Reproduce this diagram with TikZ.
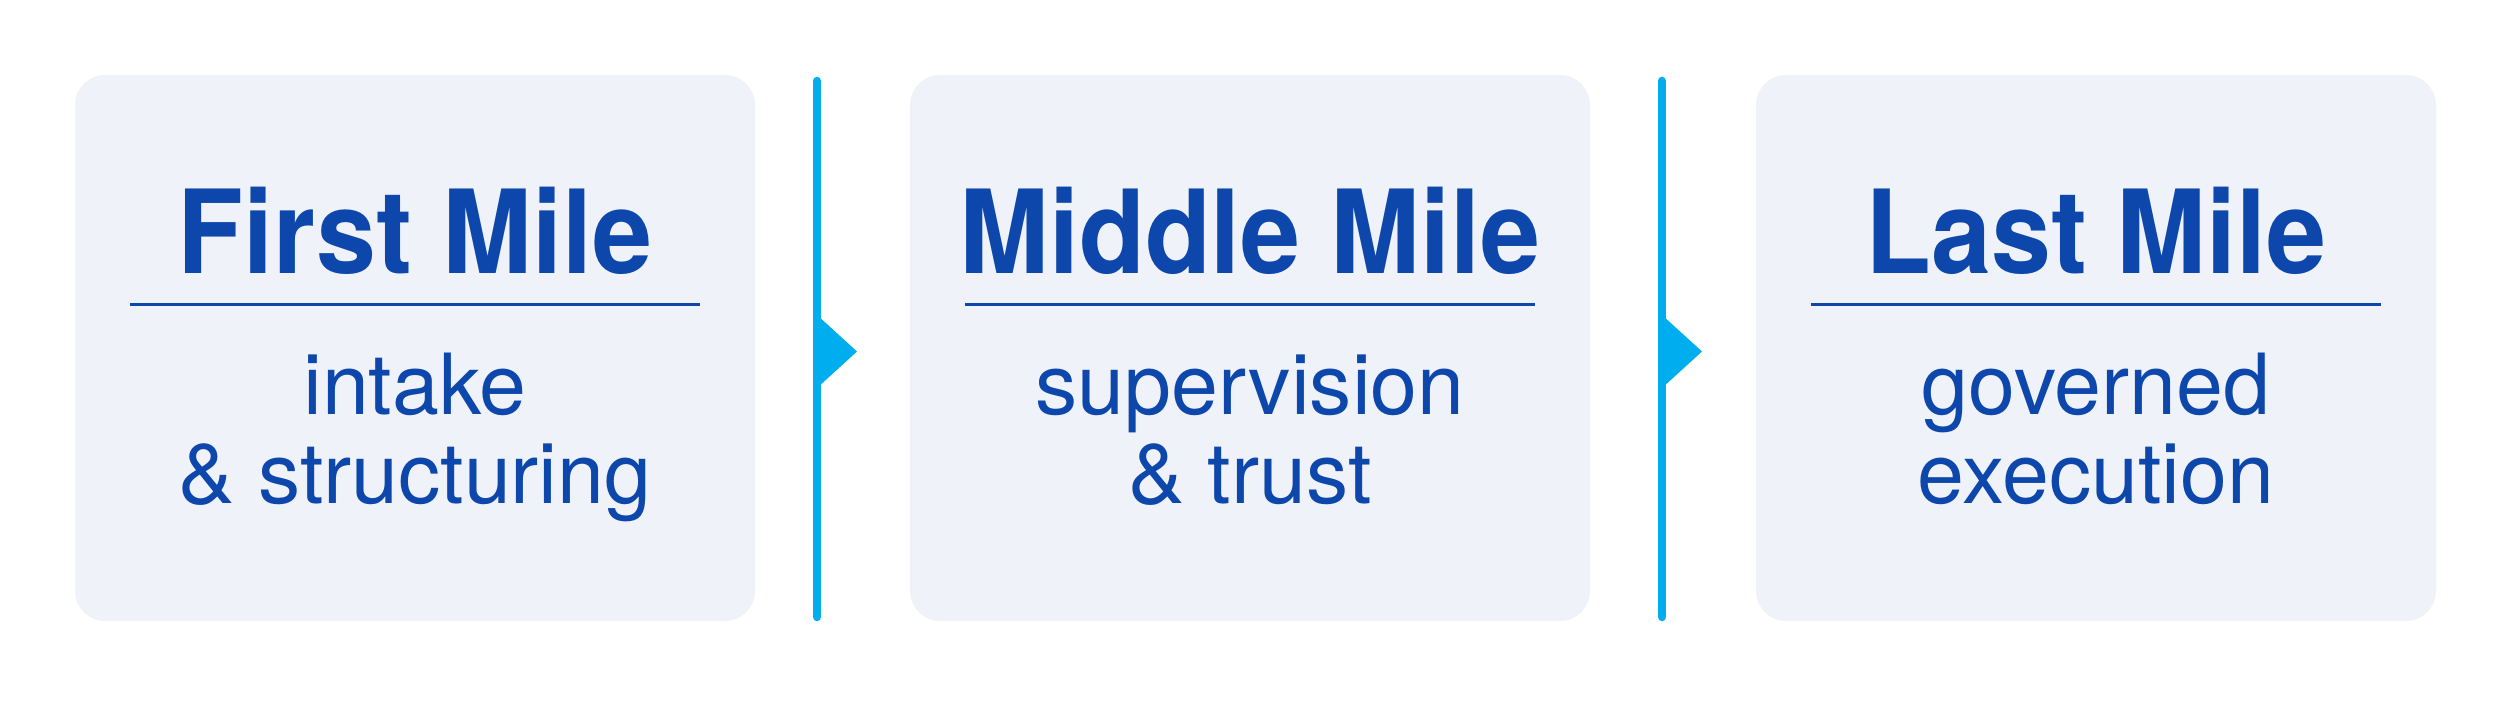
\documentclass[tikz,border=0pt]{standalone}
\usepackage{fontspec}
\setmainfont{TeX Gyre Heros}
\newfontfamily\ttlfont[FakeStretch=0.93]{TeX Gyre Heros}
\newfontfamily\subfont{TeX Gyre Heros}
\definecolor{boxfill}{HTML}{EFF2F9}
\definecolor{inkblue}{HTML}{0D47AB}
\definecolor{flowcyan}{HTML}{00AEEF}
\begin{document}
\begin{tikzpicture}[x=0.1mm, y=0.1mm,
  box/.style={rectangle, rounded corners=3mm, fill=boxfill, minimum width=68mm, minimum height=54.6mm, inner sep=0},
  ttl/.style={inner sep=0, anchor=base, text=inkblue, font=\ttlfont\bfseries\fontsize{33pt}{36pt}\selectfont},
  sub/.style={inner sep=0, anchor=base, text=inkblue, font=\subfont\fontsize{24pt}{27pt}\selectfont},
  rule/.style={draw=inkblue, line width=0.3mm},
  flow/.style={draw=flowcyan, line width=0.85mm, line cap=round}]
\useasboundingbox (0,0) rectangle (2500,709);
% boxes
\node[box] (box0) at (415,361){};
\node[box] (box1) at (1250,361){};
\node[box] (box2) at (2096,361){};
% titles
\node[ttl] (ttl0) at (415,435){First Mile};
\node[ttl] (ttl1) at (1250,435){Middle Mile};
\node[ttl] (ttl2) at (2096,435){Last Mile};
\draw[rule] (130,404) -- (700,404);
\draw[rule] (965,404) -- (1535,404);
\draw[rule] (1811,404) -- (2381,404);
% subtitles
\node[sub] (sub0a) at (415,294){intake};
\node[sub] (sub0b) at (415,206){\& structuring};
\node[sub] (sub1a) at (1250,294){supervision};
\node[sub] (sub1b) at (1250,206){\& trust};
\node[sub] (sub2a) at (2096,294){governed};
\node[sub] (sub2b) at (2096,206){execution};
% flow markers
\coordinate (top0) at (817,628);
\coordinate (bot0) at (817,92);
\coordinate (top1) at (1662,628);
\coordinate (bot1) at (1662,92);
\draw[flow] (top0) -- (bot0);
\draw[flow] (top1) -- (bot1);
\fill[flowcyan] (817,394) -- (857,357.5) -- (817,321) -- cycle;
\fill[flowcyan] (1662,394) -- (1702,357.5) -- (1662,321) -- cycle;
\end{tikzpicture}
\end{document}
